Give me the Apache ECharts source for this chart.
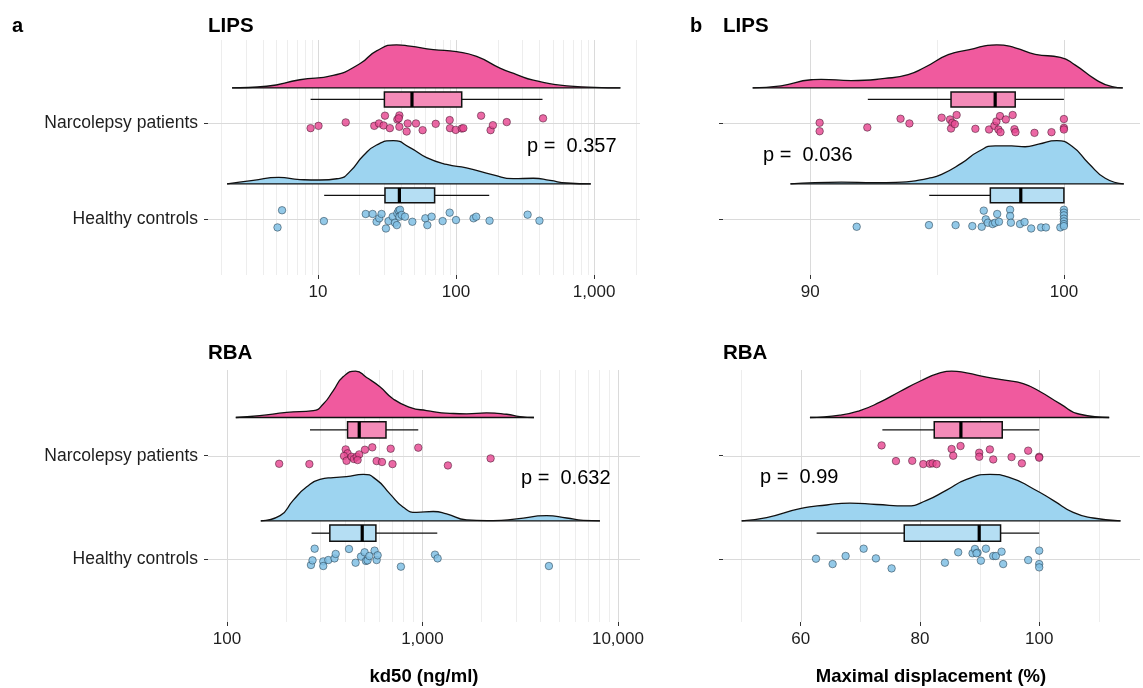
<!DOCTYPE html>
<html>
<head>
<meta charset="utf-8">
<title>LIPS / RBA raincloud</title>
<script src="https://cdn.jsdelivr.net/npm/echarts@6/dist/echarts.min.js"></script>
<style>
html, body { margin: 0; padding: 0; background: #fff; }
#main { width: 1143px; height: 688px; }
</style>
</head>
<body>
<div id="main"></div>
<script>
// y categories: 1 = healthy, 2 = narcolepsy
var groupNames = ['Healthy controls', 'Narcolepsy patients'];

// ---------- a / LIPS : kd50 (ng/ml), log axis
var lipsKdMajor = [10, 100, 1000];
var lipsKdMinor = [2, 3, 4, 5, 6, 7, 8, 9, 20, 30, 40, 50, 60, 70, 80, 90, 200, 300, 400, 500, 600, 700, 800, 900, 2000];
var lipsKdPatVals = [8.85, 10.1, 15.9, 25.6, 27.7, 29.9, 30.6, 33.2, 37.6, 38.9, 38.9, 43.9, 44.7, 51.3, 57.3, 71.3, 90, 90.5, 99.5, 110, 113, 152, 178, 185, 233, 427, 38.5];
var lipsKdPatJit = [-0.049, -0.025, 0.011, -0.025, 0, -0.021, 0.081, -0.049, 0.042, 0.084, -0.035, -0.084, 0, 0, -0.070, -0.004, 0.035, -0.049, -0.067, -0.053, -0.049, 0.081, -0.070, -0.018, 0.014, 0.053, 0.053];
var lipsKdCtlVals = [5.1, 5.5, 11.05, 22.2, 24.9, 26.6, 27.8, 28.9, 31.1, 32.5, 34.8, 36.1, 37.6, 38.4, 39.3, 38.9, 40.4, 42.7, 48.3, 60, 62, 66.6, 80, 90, 100, 134, 140, 175, 330, 402, 37.3];
var lipsKdCtlJit = [-0.084, 0.095, -0.018, 0.056, 0.056, -0.025, 0.011, 0.056, -0.095, -0.018, 0.028, -0.035, 0.063, 0.091, 0.1, 0.028, 0.046, 0.028, -0.025, 0.011, -0.060, 0.028, -0.018, 0.070, -0.007, 0.011, 0.028, -0.014, 0.049, -0.014, -0.060];
var lipsKdPatBox = [8.85, 30.3, 48, 110, 423];   // low whisker, q1, median, q3, high whisker
var lipsKdCtlBox = [11.1, 30.6, 38.9, 70, 174];
var lipsKdPatDensX = [2.39, 4.25, 7.4, 12.9, 20.1, 26.6, 37.1, 46.4, 68.5, 101, 141, 208, 275, 363, 635, 1550];
var lipsKdPatDensH = [0, 0.04, 0.19, 0.29, 0.56, 0.86, 1.0, 0.97, 0.89, 0.84, 0.73, 0.46, 0.31, 0.18, 0.05, 0];
var lipsKdCtlDensX = [2.2, 3.4, 5.2, 7.4, 10.3, 14.4, 17.1, 21.3, 26.6, 35.2, 46.4, 61.3, 85.6, 119, 186, 260, 363, 480, 634, 946];
var lipsKdCtlDensH = [0, 0.08, 0.15, 0.1, 0.09, 0.13, 0.29, 0.65, 0.90, 1.0, 0.84, 0.61, 0.45, 0.37, 0.21, 0.12, 0.13, 0.08, 0.02, 0];

// ---------- b / LIPS : maximal displacement (%)
var lipsMdMajor = [90, 100];
var lipsMdMinor = [95];
var lipsMdPatVals = [90.37, 90.37, 92.25, 93.56, 93.91, 95.18, 95.51, 95.6, 95.55, 95.7, 95.77, 96.51, 97.05, 97.26, 97.34, 97.42, 97.48, 97.5, 97.71, 97.98, 98.05, 98.09, 98.84, 99.51, 100, 100, 100];
var lipsMdPatJit = [0.007, -0.081, -0.042, 0.049, 0, 0.060, 0.042, 0.007, -0.053, -0.007, 0.088, -0.056, -0.063, -0.025, 0.021, -0.063, 0.077, -0.091, 0.042, 0.088, -0.060, -0.091, -0.098, -0.091, 0.046, -0.046, -0.063];
var lipsMdCtlVals = [91.83, 94.68, 95.73, 96.39, 96.76, 96.84, 96.92, 97.0, 97.19, 97.29, 97.37, 97.44, 97.88, 97.88, 97.91, 98.27, 98.45, 98.71, 99.10, 99.29, 99.86, 100, 100, 100, 100, 100, 100, 100];
var lipsMdCtlJit = [-0.077, -0.060, -0.060, -0.070, -0.077, 0.091, 0, -0.035, -0.049, -0.035, 0.056, -0.025, 0.1, 0.035, -0.035, -0.049, -0.028, -0.095, -0.084, -0.084, -0.084, 0.1, 0.070, 0.042, 0.007, -0.021, -0.049, -0.070];
var lipsMdPatBox = [92.27, 95.55, 97.29, 98.08, 100];
var lipsMdCtlBox = [94.69, 97.10, 98.3, 100, 100];
var lipsMdPatDensX = [87.73, 88.85, 90.04, 90.43, 91.62, 92.94, 93.86, 94.52, 95.44, 96.23, 97.35, 98.08, 98.87, 99.86, 100.45, 101.24, 101.9, 102.32];
var lipsMdPatDensH = [0, 0.05, 0.19, 0.2, 0.17, 0.22, 0.31, 0.48, 0.77, 0.88, 1.0, 0.93, 0.78, 0.71, 0.53, 0.20, 0.03, 0];
var lipsMdCtlDensX = [89.22, 91.23, 92.54, 93.6, 94.65, 95.18, 95.97, 96.63, 97.29, 97.94, 98.47, 99.0, 99.72, 100.32, 100.97, 101.63, 102.36];
var lipsMdCtlDensH = [0, 0.04, 0.03, 0.04, 0.13, 0.22, 0.48, 0.75, 0.88, 0.88, 0.86, 0.92, 1.0, 0.87, 0.48, 0.13, 0];

// ---------- RBA : kd50 (ng/ml), log axis
var rbaKdMajor = [100, 1000, 10000];
var rbaKdMinor = [200, 300, 400, 500, 600, 700, 800, 900, 2000, 3000, 4000, 5000, 6000, 7000, 8000, 9000];
var rbaKdPatVals = [185, 264, 405, 414, 397, 409, 434, 446, 461, 475, 466, 508, 554, 583, 621, 688, 703, 952, 1350, 2232];
var rbaKdPatJit = [-0.078, -0.081, 0.061, 0.023, -0.003, -0.049, -0.010, -0.032, -0.010, 0.013, -0.042, 0.058, 0.081, -0.052, -0.061, 0.068, -0.081, 0.078, -0.094, -0.026];
var rbaKdCtlVals = [269, 274, 281, 311, 311, 330, 355, 360, 421, 455, 485, 506, 514, 524, 535, 569, 583, 590, 776, 1159, 1196, 4436];
var rbaKdCtlJit = [-0.058, -0.013, 0.1, -0.023, -0.068, -0.010, 0.006, 0.049, 0.097, -0.036, 0.023, 0.065, -0.019, -0.013, 0.029, 0.081, -0.010, 0.036, -0.074, 0.042, 0.006, -0.068];
var rbaKdPatBox = [266, 414, 475, 651, 952];
var rbaKdCtlBox = [271, 336, 492, 578, 1191];
var rbaKdPatDensX = [111, 147, 202, 277, 311, 350, 394, 455, 518, 606, 709, 863, 1050, 1383, 1682, 2130, 2696, 3153, 3718];
var rbaKdPatDensH = [0, 0.04, 0.11, 0.15, 0.29, 0.58, 0.88, 1.0, 0.86, 0.66, 0.40, 0.22, 0.15, 0.09, 0.08, 0.10, 0.07, 0.02, 0];
var rbaKdCtlDensX = [149, 187, 218, 256, 299, 350, 409, 498, 583, 682, 798, 934, 1136, 1330, 1682, 2303, 3032, 4317, 5463, 6648, 8091];
var rbaKdCtlDensH = [0, 0.11, 0.44, 0.73, 0.89, 0.93, 0.95, 1.0, 0.88, 0.58, 0.29, 0.18, 0.20, 0.15, 0.02, 0.005, 0.04, 0.11, 0.06, 0.01, 0];

// ---------- RBA : maximal displacement (%)
var rbaMdMajor = [60, 80, 100];
var rbaMdMinor = [50, 70, 90, 110];
var rbaMdPatVals = [73.57, 75.98, 78.71, 80.56, 81.67, 82.12, 82.79, 85.31, 85.58, 86.81, 89.94, 89.94, 91.73, 92.29, 95.36, 97.09, 98.15, 100, 100];
var rbaMdPatJit = [0.1, -0.052, -0.049, -0.081, -0.078, -0.074, -0.081, 0.065, 0, 0.094, 0.029, -0.010, 0.061, -0.036, -0.013, -0.074, 0.049, -0.010, -0.019];
var rbaMdCtlVals = [62.57, 65.36, 67.54, 70.56, 72.62, 75.25, 84.19, 86.42, 88.82, 89.22, 89.66, 90.22, 91.06, 92.29, 92.73, 93.69, 93.96, 98.15, 100, 100, 100, 89.5];
var rbaMdCtlJit = [0.003, -0.049, 0.029, 0.1, 0.006, -0.091, -0.036, 0.065, 0.055, 0.097, 0.061, -0.016, 0.1, 0.029, 0.029, 0.071, -0.049, -0.010, 0.081, -0.049, -0.081, 0.055];
var rbaMdPatBox = [73.7, 82.4, 86.87, 93.8, 100];
var rbaMdCtlBox = [62.68, 77.37, 89.94, 93.52, 100];
var rbaMdPatDensX = [61.56, 66.59, 69.94, 73.29, 76.65, 80.0, 83.35, 85.31, 87.82, 91.17, 94.52, 97.32, 100.11, 103.46, 106.81, 111.73];
var rbaMdPatDensH = [0, 0.05, 0.15, 0.33, 0.56, 0.78, 0.96, 1.0, 0.96, 0.87, 0.80, 0.73, 0.56, 0.30, 0.07, 0];
var rbaMdCtlDensX = [50.11, 54.3, 59.89, 64.36, 68.27, 72.74, 77.76, 81.12, 84.47, 87.82, 91.73, 95.08, 98.99, 102.34, 105.7, 109.05, 113.63];
var rbaMdCtlDensH = [0, 0.07, 0.26, 0.34, 0.38, 0.35, 0.32, 0.44, 0.66, 0.89, 1.0, 0.93, 0.69, 0.44, 0.18, 0.06, 0];

var FONT = 'Liberation Sans, Arial, Helvetica, sans-serif';
var D_OFF = 0.37, D_SCALE = 0.45;   // flat violin above category
var B_OFF = 0.25, B_HALF = 0.078;   // box nudge

var pink = { dens: '#F05A9E', box: '#F48BB8', pt: 'rgba(230,72,145,0.82)', ptBorder: 'rgba(60,20,40,0.65)' };
var blue = { dens: '#9DD4F0', box: '#B5DEF3', pt: 'rgba(128,192,228,0.85)', ptBorder: 'rgba(30,55,70,0.65)' };

var panels = [
	{ log: true, min: 1.6, max: 2150, ymin: 0.42, ymax: 2.87, showY: true, major: lipsKdMajor, minor: lipsKdMinor,
	  pat: [lipsKdPatVals, lipsKdPatJit, lipsKdPatBox, lipsKdPatDensX, lipsKdPatDensH],
	  ctl: [lipsKdCtlVals, lipsKdCtlJit, lipsKdCtlBox, lipsKdCtlDensX, lipsKdCtlDensH] },
	{ log: false, min: 86.56, max: 103.0, ymin: 0.42, ymax: 2.87, showY: false, major: lipsMdMajor, minor: lipsMdMinor,
	  pat: [lipsMdPatVals, lipsMdPatJit, lipsMdPatBox, lipsMdPatDensX, lipsMdPatDensH],
	  ctl: [lipsMdCtlVals, lipsMdCtlJit, lipsMdCtlBox, lipsMdCtlDensX, lipsMdCtlDensH] },
	{ log: true, min: 80, max: 12970, ymin: 0.39, ymax: 2.83, showY: true, major: rbaKdMajor, minor: rbaKdMinor,
	  pat: [rbaKdPatVals, rbaKdPatJit, rbaKdPatBox, rbaKdPatDensX, rbaKdPatDensH],
	  ctl: [rbaKdCtlVals, rbaKdCtlJit, rbaKdCtlBox, rbaKdCtlDensX, rbaKdCtlDensH] },
	{ log: false, min: 46.98, max: 116.9, ymin: 0.39, ymax: 2.83, showY: false, major: rbaMdMajor, minor: rbaMdMinor,
	  pat: [rbaMdPatVals, rbaMdPatJit, rbaMdPatBox, rbaMdPatDensX, rbaMdPatDensH],
	  ctl: [rbaMdCtlVals, rbaMdCtlJit, rbaMdCtlBox, rbaMdCtlDensX, rbaMdCtlDensH] }
];

var grids = [
	{ left: 208, top: 40, width: 432, height: 235 },
	{ left: 723, top: 40, width: 417, height: 235 },
	{ left: 208, top: 370, width: 432, height: 252 },
	{ left: 723, top: 370, width: 417, height: 252 }
];

function fmtNum(v) {
	return String(Math.round(v)).replace(/\B(?=(\d{3})+(?!\d))/g, ',');
}

function crisp(v) { return Math.round(v) + 0.5; }

var raincloud = {
	gridLines: function(p, i) {
		var data = [];
		p.minor.forEach(function(v) { data.push([v, 0]); });
		p.major.forEach(function(v) { data.push([v, 1]); });
		return {
			type: 'custom', xAxisIndex: i, yAxisIndex: i, z: 1, silent: true, data: data,
			renderItem: function(params, api) {
				var x = crisp(api.coord([api.value(0), 1.5])[0]);
				var cs = params.coordSys;
				return { type: 'line', shape: { x1: x, y1: cs.y, x2: x, y2: cs.y + cs.height },
					style: { stroke: api.value(1) ? '#dadada' : '#ededed', lineWidth: 1 } };
			}
		};
	},
	catLines: function(p, i) {
		return {
			type: 'custom', xAxisIndex: i, yAxisIndex: i, z: 1, silent: true, data: [[p.min, 1], [p.min, 2]],
			renderItem: function(params, api) {
				var y = crisp(api.coord([api.value(0), api.value(1)])[1]);
				var cs = params.coordSys;
				return { type: 'line', shape: { x1: cs.x, y1: y, x2: cs.x + cs.width, y2: y },
					style: { stroke: '#dadada', lineWidth: 1 } };
			}
		};
	},
	density: function(g, cat, col, i) {
		var xs = g[3], hs = g[4];
		var base = cat + D_OFF;
		var line = [];
		for (var k = 0; k < xs.length; k++) line.push([xs[k], base + hs[k] * D_SCALE]);
		return [{
			type: 'line', xAxisIndex: i, yAxisIndex: i, z: 2, silent: true, symbol: 'none',
			smooth: 0.55, data: line,
			lineStyle: { color: '#111', width: 1.3 },
			areaStyle: { color: col.dens, opacity: 1, origin: base }
		}, {
			type: 'line', xAxisIndex: i, yAxisIndex: i, z: 2, silent: true, symbol: 'none',
			data: [[xs[0], base], [xs[xs.length - 1], base]],
			lineStyle: { color: '#111', width: 1.3 }
		}];
	},
	box: function(g, cat, col, i) {
		return {
			type: 'custom', xAxisIndex: i, yAxisIndex: i, z: 3, silent: true,
			data: [g[2].concat([cat])],
			encode: { x: [0, 1, 2, 3, 4], y: 5 },
			renderItem: function(params, api) {
				var c = api.value(5) + B_OFF;
				var lo = api.coord([api.value(0), c]);
				var q1 = api.coord([api.value(1), c]);
				var md = api.coord([api.value(2), c]);
				var q3 = api.coord([api.value(3), c]);
				var hi = api.coord([api.value(4), c]);
				var top = api.coord([api.value(1), c + B_HALF])[1];
				var bot = api.coord([api.value(1), c - B_HALF])[1];
				var ls = { stroke: '#111', lineWidth: 1.3 };
				return { type: 'group', children: [
					{ type: 'line', shape: { x1: lo[0], y1: lo[1], x2: q1[0], y2: q1[1] }, style: ls },
					{ type: 'line', shape: { x1: q3[0], y1: q3[1], x2: hi[0], y2: hi[1] }, style: ls },
					{ type: 'rect', shape: { x: q1[0], y: top, width: q3[0] - q1[0], height: bot - top },
					  style: { fill: col.box, stroke: '#111', lineWidth: 1.5 } },
					{ type: 'line', shape: { x1: md[0], y1: top, x2: md[0], y2: bot }, style: { stroke: '#000', lineWidth: 3.2 } }
				] };
			}
		};
	},
	points: function(g, cat, col, i) {
		return {
			type: 'scatter', xAxisIndex: i, yAxisIndex: i, z: 4, silent: true, symbolSize: 7.5,
			data: g[0].map(function(v, k) { return [v, cat + g[1][k]]; }),
			itemStyle: { color: col.pt, borderColor: col.ptBorder, borderWidth: 0.8, opacity: 1 }
		};
	}
};

var xAxes = [], yAxes = [], series = [];
panels.forEach(function(p, i) {
	xAxes.push({
		gridIndex: i, type: p.log ? 'log' : 'value', logBase: 10, min: p.min, max: p.max,
		axisLine: { show: false, onZero: false },
		splitLine: { show: false },
		axisTick: { show: true, length: 4, customValues: p.major, lineStyle: { color: '#333', width: 1 } },
		axisLabel: { customValues: p.major, margin: 9, fontSize: 17, color: '#1e1e1e', fontFamily: FONT,
			formatter: function(v) { return fmtNum(v); } }
	});
	yAxes.push({
		gridIndex: i, type: 'value', min: p.ymin, max: p.ymax,
		axisLine: { show: false, onZero: false },
		splitLine: { show: false },
		axisTick: { show: true, length: 4, customValues: [1, 2], lineStyle: { color: '#333', width: 1 } },
		axisLabel: { show: p.showY, customValues: [1, 2], margin: 10, fontSize: 17.5, color: '#1e1e1e', fontFamily: FONT,
			formatter: function(v) { return groupNames[Math.round(v) - 1] || ''; } }
	});
	series.push(raincloud.gridLines(p, i));
	series.push(raincloud.catLines(p, i));
	series = series.concat(raincloud.density(p.pat, 2, pink, i));
	series = series.concat(raincloud.density(p.ctl, 1, blue, i));
	series.push(raincloud.box(p.pat, 2, pink, i));
	series.push(raincloud.box(p.ctl, 1, blue, i));
	series.push(raincloud.points(p.pat, 2, pink, i));
	series.push(raincloud.points(p.ctl, 1, blue, i));
});

function txt(x, y, s, size, bold, align) {
	return { type: 'text', x: x, y: y, z: 10, silent: true,
		style: { text: s, fill: '#000', fontSize: size, fontWeight: bold ? 'bold' : 'normal', fontFamily: FONT,
			align: align || 'left', verticalAlign: 'middle' } };
}

var myChart = echarts.init(document.getElementById('main'), null, { renderer: 'canvas' });
var option = {
	animation: false,
	backgroundColor: '#fff',
	textStyle: { fontFamily: FONT },
	grid: grids,
	xAxis: xAxes,
	yAxis: yAxes,
	series: series,
	graphic: [
		txt(12, 26, 'a', 20, true),
		txt(208, 26, 'LIPS', 20.5, true),
		txt(690, 26, 'b', 20, true),
		txt(723, 26, 'LIPS', 20.5, true),
		txt(208, 353, 'RBA', 20.5, true),
		txt(723, 353, 'RBA', 20.5, true),
		txt(527, 146, 'p =  0.357', 20),
		txt(763, 155, 'p =  0.036', 20),
		txt(521, 478, 'p =  0.632', 20),
		txt(760, 477, 'p =  0.99', 20),
		txt(424, 677, 'kd50 (ng/ml)', 18.5, true, 'center'),
		txt(931, 677, 'Maximal displacement (%)', 18.5, true, 'center')
	]
};
myChart.setOption(option);
</script>
</body>
</html>
